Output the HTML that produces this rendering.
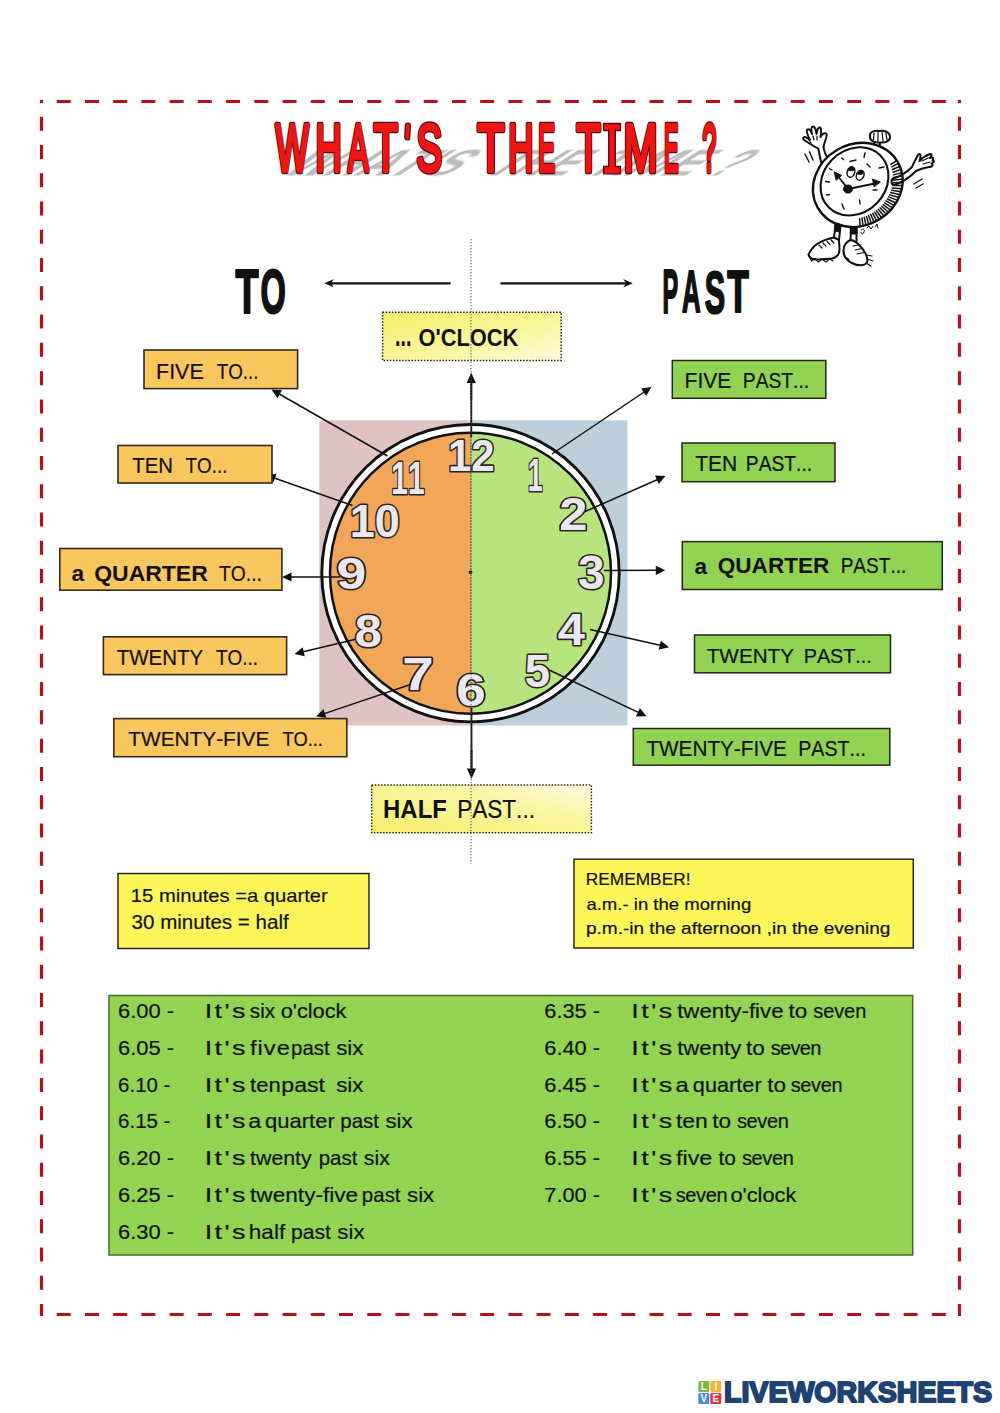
<!DOCTYPE html><html><head><meta charset="utf-8"><style>html,body{margin:0;padding:0;background:#fff;}svg{display:block;}text{font-family:"Liberation Sans",sans-serif;white-space:pre;font-kerning:none;font-variant-ligatures:none;}</style></head><body>
<svg width="1000" height="1413" viewBox="0 0 1000 1413">
<defs><linearGradient id="yg1" x1="0" y1="0" x2="1" y2="1"><stop offset="0" stop-color="#f6ef6a"/><stop offset="0.6" stop-color="#faf6a0"/><stop offset="1" stop-color="#fffbe0"/></linearGradient><linearGradient id="yg2" x1="0" y1="1" x2="1" y2="0"><stop offset="0" stop-color="#f6ef6a"/><stop offset="0.6" stop-color="#faf6a0"/><stop offset="1" stop-color="#fffbe0"/></linearGradient></defs>
<rect width="1000" height="1413" fill="#fff"/>
<g stroke="#b3121c" stroke-width="3.2" fill="none">
<line x1="56.7" y1="101.5" x2="950" y2="101.5" stroke-dasharray="14 14.23"/>
<line x1="56.7" y1="1314.5" x2="950" y2="1314.5" stroke-dasharray="14 14.23"/>
<line x1="41.5" y1="116.7" x2="41.5" y2="1316" stroke-dasharray="14 14.27"/>
<line x1="959.5" y1="116.7" x2="959.5" y2="1316" stroke-dasharray="14 14.27"/>
</g>
<rect x="39.9" y="99.9" width="3.2" height="3.2" fill="#b3121c"/>
<rect x="957.9" y="99.9" width="3.2" height="3.2" fill="#b3121c"/>
<filter id="blur1" x="-10%" y="-50%" width="120%" height="200%"><feGaussianBlur stdDeviation="1.1"/></filter>
<text transform="translate(278.46,175.50) skewX(-57) scale(0.5661,0.48)" font-size="77.04" font-weight="bold" fill="#bcbcbc" filter="url(#blur1)">WHAT'S</text>
<text transform="translate(481.54,175.50) skewX(-57) scale(0.5326,0.48)" font-size="77.04" font-weight="bold" fill="#bcbcbc" filter="url(#blur1)">THE</text>
<text transform="translate(580.90,175.50) skewX(-57) scale(0.5773,0.48)" font-size="77.04" font-weight="bold" fill="#bcbcbc" filter="url(#blur1)">TIME</text>
<text transform="translate(704.34,175.50) skewX(-57) scale(0.4708,0.48)" font-size="77.04" font-weight="bold" fill="#bcbcbc" filter="url(#blur1)">?</text>
<text transform="translate(275.65,171.30) scale(0.5239,1)" font-size="66.28" font-weight="normal" fill="#ee1515" stroke="#5a0606" stroke-width="6.4" stroke-linejoin="round">W</text>
<text transform="translate(315.52,171.30) scale(0.5483,1)" font-size="66.28" font-weight="normal" fill="#ee1515" stroke="#5a0606" stroke-width="6.4" stroke-linejoin="round">H</text>
<text transform="translate(347.94,171.30) scale(0.4596,1)" font-size="66.28" font-weight="normal" fill="#ee1515" stroke="#5a0606" stroke-width="6.4" stroke-linejoin="round">A</text>
<text transform="translate(373.72,171.30) scale(0.5924,1)" font-size="66.28" font-weight="normal" fill="#ee1515" stroke="#5a0606" stroke-width="6.4" stroke-linejoin="round">T</text>
<text transform="translate(416.56,171.30) scale(0.5792,1)" font-size="66.28" font-weight="normal" fill="#ee1515" stroke="#5a0606" stroke-width="6.4" stroke-linejoin="round">S</text>
<text transform="translate(477.61,171.30) scale(0.6617,1)" font-size="66.28" font-weight="normal" fill="#ee1515" stroke="#5a0606" stroke-width="6.4" stroke-linejoin="round">T</text>
<text transform="translate(508.34,171.30) scale(0.5267,1)" font-size="66.28" font-weight="normal" fill="#ee1515" stroke="#5a0606" stroke-width="6.4" stroke-linejoin="round">H</text>
<text transform="translate(538.10,171.30) scale(0.3869,1)" font-size="66.28" font-weight="normal" fill="#ee1515" stroke="#5a0606" stroke-width="6.4" stroke-linejoin="round">E</text>
<text transform="translate(576.52,171.30) scale(0.5924,1)" font-size="66.28" font-weight="normal" fill="#ee1515" stroke="#5a0606" stroke-width="6.4" stroke-linejoin="round">T</text>
<text transform="translate(623.44,171.30) scale(0.6180,1)" font-size="66.28" font-weight="normal" fill="#ee1515" stroke="#5a0606" stroke-width="6.4" stroke-linejoin="round">M</text>
<text transform="translate(664.01,171.30) scale(0.3285,1)" font-size="66.28" font-weight="normal" fill="#ee1515" stroke="#5a0606" stroke-width="6.4" stroke-linejoin="round">E</text>
<text transform="translate(702.49,171.30) scale(0.3724,1)" font-size="66.28" font-weight="normal" fill="#ee1515" stroke="#5a0606" stroke-width="6.4" stroke-linejoin="round">?</text>
<text transform="translate(275.65,171.30) scale(0.5239,1)" font-size="66.28" font-weight="normal" fill="#ee1515" stroke="#ee1515" stroke-width="3.8" stroke-linejoin="round">W</text>
<text transform="translate(315.52,171.30) scale(0.5483,1)" font-size="66.28" font-weight="normal" fill="#ee1515" stroke="#ee1515" stroke-width="3.8" stroke-linejoin="round">H</text>
<text transform="translate(347.94,171.30) scale(0.4596,1)" font-size="66.28" font-weight="normal" fill="#ee1515" stroke="#ee1515" stroke-width="3.8" stroke-linejoin="round">A</text>
<text transform="translate(373.72,171.30) scale(0.5924,1)" font-size="66.28" font-weight="normal" fill="#ee1515" stroke="#ee1515" stroke-width="3.8" stroke-linejoin="round">T</text>
<text transform="translate(416.56,171.30) scale(0.5792,1)" font-size="66.28" font-weight="normal" fill="#ee1515" stroke="#ee1515" stroke-width="3.8" stroke-linejoin="round">S</text>
<text transform="translate(477.61,171.30) scale(0.6617,1)" font-size="66.28" font-weight="normal" fill="#ee1515" stroke="#ee1515" stroke-width="3.8" stroke-linejoin="round">T</text>
<text transform="translate(508.34,171.30) scale(0.5267,1)" font-size="66.28" font-weight="normal" fill="#ee1515" stroke="#ee1515" stroke-width="3.8" stroke-linejoin="round">H</text>
<text transform="translate(538.10,171.30) scale(0.3869,1)" font-size="66.28" font-weight="normal" fill="#ee1515" stroke="#ee1515" stroke-width="3.8" stroke-linejoin="round">E</text>
<text transform="translate(576.52,171.30) scale(0.5924,1)" font-size="66.28" font-weight="normal" fill="#ee1515" stroke="#ee1515" stroke-width="3.8" stroke-linejoin="round">T</text>
<text transform="translate(623.44,171.30) scale(0.6180,1)" font-size="66.28" font-weight="normal" fill="#ee1515" stroke="#ee1515" stroke-width="3.8" stroke-linejoin="round">M</text>
<text transform="translate(664.01,171.30) scale(0.3285,1)" font-size="66.28" font-weight="normal" fill="#ee1515" stroke="#ee1515" stroke-width="3.8" stroke-linejoin="round">E</text>
<text transform="translate(702.49,171.30) scale(0.3724,1)" font-size="66.28" font-weight="normal" fill="#ee1515" stroke="#ee1515" stroke-width="3.8" stroke-linejoin="round">?</text>
<line x1="407.8" y1="125.5" x2="407.3" y2="137.5" stroke="#5a0606" stroke-width="6.2" stroke-linecap="round"/>
<line x1="407.8" y1="125.5" x2="407.3" y2="137.5" stroke="#ee1515" stroke-width="3.8" stroke-linecap="round"/>
<path d="M603.5,123.5 H620.5 V130.5 H615.3 V166.5 H620.5 V173.8 H603.5 V166.5 H608.7 V130.5 H603.5 Z" fill="#ee1515" stroke="#5a0606" stroke-width="1.3" stroke-linejoin="round"/>
<text transform="translate(235.47,313.10) scale(0.6017,1)" font-size="62.94" font-weight="bold" fill="#111" stroke="#111" stroke-width="2.2" stroke-linejoin="round">T</text>
<text transform="translate(260.47,313.29) scale(0.5198,1)" font-size="62.57" font-weight="bold" fill="#111" stroke="#111" stroke-width="2.2" stroke-linejoin="round">O</text>
<text transform="translate(662.53,312.90) scale(0.3760,1)" font-size="62.50" font-weight="bold" fill="#111" stroke="#111" stroke-width="2.2" stroke-linejoin="round">P</text>
<text transform="translate(681.96,312.40) scale(0.4348,1)" font-size="59.30" font-weight="bold" fill="#111" stroke="#111" stroke-width="2.2" stroke-linejoin="round">A</text>
<text transform="translate(704.72,313.12) scale(0.5137,1)" font-size="59.46" font-weight="bold" fill="#111" stroke="#111" stroke-width="2.2" stroke-linejoin="round">S</text>
<text transform="translate(727.20,312.40) scale(0.5884,1)" font-size="60.03" font-weight="bold" fill="#111" stroke="#111" stroke-width="2.2" stroke-linejoin="round">T</text>
<line x1="450.6" y1="283.3" x2="329.4" y2="283.3" stroke="#111" stroke-width="2.3"/>
<polygon points="324.4,283.3 333.9,279.1 330.9,283.3 333.9,287.5" fill="#111"/>
<line x1="500.5" y1="283.3" x2="627.7" y2="283.3" stroke="#111" stroke-width="2.3"/>
<polygon points="632.7,283.3 623.2,287.5 626.2,283.3 623.2,279.1" fill="#111"/>
<rect x="319.3" y="420.3" width="151.7" height="305.2" fill="#dfc3c3"/>
<rect x="471" y="420.3" width="156.5" height="305.2" fill="#bdcfda"/>
<circle cx="470.5" cy="573.2" r="148.7" fill="#fff" stroke="#111" stroke-width="2.9"/>
<clipPath id="face"><circle cx="470.5" cy="573.2" r="140"/></clipPath>
<g clip-path="url(#face)"><rect x="329.5" y="432.20000000000005" width="141.5" height="282" fill="#f2a65a"/><rect x="471" y="432.20000000000005" width="141" height="282" fill="#b7e47c"/></g>
<circle cx="470.5" cy="573.2" r="140.5" fill="none" stroke="#111" stroke-width="2.5"/>
<line x1="471" y1="436" x2="471" y2="710" stroke="#555" stroke-width="1" stroke-dasharray="1.3 1.7"/>
<circle cx="470.5" cy="572.3" r="1.8" fill="#111"/>
<line x1="471.3" y1="380" x2="471.3" y2="437" stroke="#111" stroke-width="1.8"/>
<line x1="471.3" y1="400.0" x2="471.3" y2="381.5" stroke="#111" stroke-width="1.8"/>
<polygon points="471.3,372.5 475.9,383.0 471.3,383.0 466.7,383.0" fill="#111"/>
<line x1="471.5" y1="708" x2="471.5" y2="770" stroke="#111" stroke-width="1.8"/>
<line x1="471.5" y1="750.0" x2="471.5" y2="770.0" stroke="#111" stroke-width="1.8"/>
<polygon points="471.5,779.0 466.9,768.5 471.5,768.5 476.1,768.5" fill="#111"/>
<line x1="387.5" y1="456.0" x2="278.4" y2="393.5" stroke="#111" stroke-width="1.5"/>
<polygon points="271.5,389.5 282.0,390.2 279.7,394.2 277.5,398.2" fill="#111"/>
<line x1="352.5" y1="505.5" x2="273.5" y2="477.7" stroke="#111" stroke-width="1.5"/>
<polygon points="266.0,475.0 276.5,473.8 275.0,478.2 273.4,482.5" fill="#111"/>
<line x1="340.0" y1="577.0" x2="290.0" y2="577.0" stroke="#111" stroke-width="1.5"/>
<polygon points="282.0,577.0 291.5,572.4 291.5,577.0 291.5,581.6" fill="#111"/>
<line x1="365.0" y1="637.0" x2="302.3" y2="652.1" stroke="#111" stroke-width="1.5"/>
<polygon points="294.5,654.0 302.7,647.3 303.7,651.8 304.8,656.2" fill="#111"/>
<line x1="415.0" y1="683.0" x2="323.6" y2="713.9" stroke="#111" stroke-width="1.5"/>
<polygon points="316.0,716.5 323.5,709.1 325.0,713.5 326.5,717.8" fill="#111"/>
<line x1="552.0" y1="454.0" x2="644.9" y2="391.5" stroke="#111" stroke-width="1.5"/>
<polygon points="651.5,387.0 646.2,396.1 643.6,392.3 641.1,388.5" fill="#111"/>
<line x1="584.0" y1="512.0" x2="658.2" y2="479.2" stroke="#111" stroke-width="1.5"/>
<polygon points="665.5,476.0 658.7,484.0 656.8,479.8 655.0,475.6" fill="#111"/>
<line x1="604.0" y1="570.5" x2="657.3" y2="570.3" stroke="#111" stroke-width="1.5"/>
<polygon points="665.3,570.3 655.8,574.9 655.8,570.3 655.8,565.7" fill="#111"/>
<line x1="590.0" y1="629.4" x2="661.2" y2="645.5" stroke="#111" stroke-width="1.5"/>
<polygon points="669.0,647.3 658.7,649.7 659.7,645.2 660.8,640.7" fill="#111"/>
<line x1="546.0" y1="668.5" x2="639.3" y2="712.9" stroke="#111" stroke-width="1.5"/>
<polygon points="646.5,716.3 635.9,716.4 637.9,712.2 639.9,708.1" fill="#111"/>
<text transform="translate(447.96,471.40) scale(0.9350,1)" font-size="44.83" font-weight="bold" fill="#eae8ef" stroke="#2e2626" stroke-width="3.2" paint-order="stroke" stroke-linejoin="round">12</text>
<text transform="translate(527.72,491.20) scale(0.5802,1)" font-size="45.93" font-weight="bold" fill="#eae8ef" stroke="#2e2626" stroke-width="3.2" paint-order="stroke" stroke-linejoin="round">1</text>
<text transform="translate(559.24,529.60) scale(1.0990,1)" font-size="46.12" font-weight="bold" fill="#eae8ef" stroke="#2e2626" stroke-width="3.2" paint-order="stroke" stroke-linejoin="round">2</text>
<text transform="translate(577.90,589.46) scale(0.9991,1)" font-size="47.92" font-weight="bold" fill="#eae8ef" stroke="#2e2626" stroke-width="3.2" paint-order="stroke" stroke-linejoin="round">3</text>
<text transform="translate(557.86,644.60) scale(1.0855,1)" font-size="45.06" font-weight="bold" fill="#eae8ef" stroke="#2e2626" stroke-width="3.2" paint-order="stroke" stroke-linejoin="round">4</text>
<text transform="translate(524.80,687.34) scale(0.9663,1)" font-size="47.01" font-weight="bold" fill="#eae8ef" stroke="#2e2626" stroke-width="3.2" paint-order="stroke" stroke-linejoin="round">5</text>
<text transform="translate(456.35,706.25) scale(1.1582,1)" font-size="45.90" font-weight="bold" fill="#eae8ef" stroke="#2e2626" stroke-width="3.2" paint-order="stroke" stroke-linejoin="round">6</text>
<text transform="translate(402.26,690.20) scale(1.2342,1)" font-size="45.93" font-weight="bold" fill="#eae8ef" stroke="#2e2626" stroke-width="3.2" paint-order="stroke" stroke-linejoin="round">7</text>
<text transform="translate(354.76,646.75) scale(1.0591,1)" font-size="45.90" font-weight="bold" fill="#eae8ef" stroke="#2e2626" stroke-width="3.2" paint-order="stroke" stroke-linejoin="round">8</text>
<text transform="translate(336.54,588.96) scale(1.2027,1)" font-size="44.63" font-weight="bold" fill="#eae8ef" stroke="#2e2626" stroke-width="3.2" paint-order="stroke" stroke-linejoin="round">9</text>
<text transform="translate(349.76,536.96) scale(0.9900,1)" font-size="45.48" font-weight="bold" fill="#eae8ef" stroke="#2e2626" stroke-width="3.2" paint-order="stroke" stroke-linejoin="round">10</text>
<text transform="translate(390.89,494.20) scale(0.6484,1)" font-size="46.80" font-weight="bold" fill="#eae8ef" stroke="#2e2626" stroke-width="3.2" paint-order="stroke" stroke-linejoin="round">11</text>
<rect x="144.0" y="350.0" width="153.6" height="38.6" fill="#fac75e" stroke="#33291a" stroke-width="1.6" />
<rect x="118.0" y="445.5" width="154.0" height="37.5" fill="#fac75e" stroke="#33291a" stroke-width="1.6" />
<rect x="59.8" y="548.5" width="222.1" height="41.7" fill="#fac75e" stroke="#33291a" stroke-width="1.6" />
<rect x="103.4" y="636.8" width="183.2" height="37.8" fill="#fac75e" stroke="#33291a" stroke-width="1.6" />
<rect x="113.8" y="718.6" width="233.0" height="38.1" fill="#fac75e" stroke="#33291a" stroke-width="1.6" />
<text transform="translate(156.04,379.00) scale(0.9839,1)" font-size="21.80" font-weight="normal" fill="#111" stroke="#111" stroke-width="0.2">FIVE</text>
<text transform="translate(216.78,379.00) scale(0.8615,1)" font-size="21.80" font-weight="normal" fill="#111" stroke="#111" stroke-width="0.2">TO...</text>
<text transform="translate(132.24,473.10) scale(0.9439,1)" font-size="21.51" font-weight="normal" fill="#111" stroke="#111" stroke-width="0.2">TEN</text>
<text transform="translate(185.58,473.10) scale(0.8753,1)" font-size="21.51" font-weight="normal" fill="#111" stroke="#111" stroke-width="0.2">TO...</text>
<text transform="translate(128.33,745.90) scale(1.0014,1)" font-size="20.79" font-weight="normal" fill="#111" stroke="#111" stroke-width="0.2">TWENTY-FIVE</text>
<text transform="translate(282.39,745.90) scale(0.8785,1)" font-size="20.79" font-weight="normal" fill="#111" stroke="#111" stroke-width="0.2">TO...</text>
<text transform="translate(116.74,664.80) scale(0.9275,1)" font-size="22.09" font-weight="normal" fill="#111" stroke="#111" stroke-width="0.2">TWENTY</text>
<text transform="translate(215.97,664.80) scale(0.8587,1)" font-size="22.09" font-weight="normal" fill="#111" stroke="#111" stroke-width="0.2">TO...</text>
<text transform="translate(71.44,580.58) scale(1.0275,1)" font-size="22.09" font-weight="bold" fill="#111" >a</text>
<text transform="translate(94.26,580.80) scale(1.0266,1)" font-size="22.38" font-weight="bold" fill="#111" >QUARTER</text>
<text transform="translate(219.07,580.80) scale(0.8624,1)" font-size="22.38" font-weight="normal" fill="#111" stroke="#111" stroke-width="0.2">TO...</text>
<rect x="672.3" y="360.5" width="153.5" height="37.8" fill="#92d252" stroke="#1e2a14" stroke-width="1.5" />
<rect x="682.0" y="443.0" width="153.0" height="38.7" fill="#92d252" stroke="#1e2a14" stroke-width="1.5" />
<rect x="682.3" y="541.6" width="260.0" height="47.9" fill="#92d252" stroke="#1e2a14" stroke-width="1.5" />
<rect x="694.5" y="635.0" width="196.0" height="37.8" fill="#92d252" stroke="#1e2a14" stroke-width="1.5" />
<rect x="633.3" y="728.5" width="256.5" height="36.7" fill="#92d252" stroke="#1e2a14" stroke-width="1.5" />
<text transform="translate(684.58,388.10) scale(0.9839,1)" font-size="21.37" font-weight="normal" fill="#111" stroke="#111" stroke-width="0.2">FIVE</text>
<text transform="translate(742.82,388.10) scale(0.9011,1)" font-size="21.37" font-weight="normal" fill="#111" stroke="#111" stroke-width="0.2">PAST...</text>
<text transform="translate(695.13,471.00) scale(0.9849,1)" font-size="21.37" font-weight="normal" fill="#111" stroke="#111" stroke-width="0.2">TEN</text>
<text transform="translate(745.82,471.00) scale(0.9011,1)" font-size="21.37" font-weight="normal" fill="#111" stroke="#111" stroke-width="0.2">PAST...</text>
<text transform="translate(706.74,662.50) scale(0.9882,1)" font-size="20.93" font-weight="normal" fill="#111" stroke="#111" stroke-width="0.2">TWENTY</text>
<text transform="translate(803.68,662.50) scale(0.9462,1)" font-size="20.93" font-weight="normal" fill="#111" stroke="#111" stroke-width="0.2">PAST...</text>
<text transform="translate(646.43,756.00) scale(0.9505,1)" font-size="21.80" font-weight="normal" fill="#111" stroke="#111" stroke-width="0.2">TWENTY-FIVE</text>
<text transform="translate(798.19,756.00) scale(0.9027,1)" font-size="21.80" font-weight="normal" fill="#111" stroke="#111" stroke-width="0.2">PAST...</text>
<text transform="translate(694.44,573.59) scale(1.0275,1)" font-size="21.90" font-weight="bold" fill="#111" >a</text>
<text transform="translate(717.67,573.30) scale(0.9845,1)" font-size="22.97" font-weight="bold" fill="#111" >QUARTER</text>
<text transform="translate(840.64,573.30) scale(0.8304,1)" font-size="22.97" font-weight="normal" fill="#111" stroke="#111" stroke-width="0.2">PAST...</text>
<rect x="382.6" y="312.2" width="178.6" height="48.3" fill="url(#yg1)" stroke="#262616" stroke-width="1.5" stroke-dasharray="1.5 1.6"/>
<text transform="translate(394.97,345.80) scale(0.6100,1)" font-size="32.23" font-weight="bold" fill="#111" >...</text>
<text transform="translate(418.51,345.80) scale(0.9150,1)" font-size="23.84" font-weight="bold" fill="#111" >O'CLOCK</text>
<rect x="371.7" y="785.0" width="219.7" height="47.8" fill="url(#yg2)" stroke="#262616" stroke-width="1.5" stroke-dasharray="1.5 1.6"/>
<text transform="translate(383.10,817.50) scale(0.9569,1)" font-size="25.00" font-weight="bold" fill="#111" >HALF</text>
<text transform="translate(457.15,817.50) scale(0.9034,1)" font-size="25.00" font-weight="normal" fill="#111" stroke="#111" stroke-width="0.2">PAST...</text>
<line x1="471" y1="239" x2="471" y2="863.5" stroke="#606060" stroke-width="1.1" stroke-dasharray="1.3 1.7"/>
<rect x="118.0" y="873.5" width="251.0" height="75.0" fill="#fcf65a" stroke="#1e1a10" stroke-width="1.4" />
<text transform="translate(130.86,902.00) scale(1.0858,1)" font-size="18.60" font-weight="normal" fill="#111" stroke="#111" stroke-width="0.2">15 minutes =a quarter</text>
<text transform="translate(131.62,929.30) scale(1.0401,1)" font-size="19.77" font-weight="normal" fill="#111" stroke="#111" stroke-width="0.2">30 minutes = half</text>
<rect x="574.0" y="859.2" width="339.3" height="88.8" fill="#fcf65a" stroke="#1e1a10" stroke-width="1.4" />
<text transform="translate(585.78,884.80) scale(1.0165,1)" font-size="17.01" font-weight="normal" fill="#111" stroke="#111" stroke-width="0.2">REMEMBER!</text>
<text transform="translate(586.41,910.00) scale(1.0903,1)" font-size="17.01" font-weight="normal" fill="#111" stroke="#111" stroke-width="0.2">a.m.- in the morning</text>
<text transform="translate(585.97,934.30) scale(1.1186,1)" font-size="17.01" font-weight="normal" fill="#111" stroke="#111" stroke-width="0.2">p.m.-in the afternoon ,in the evening</text>
<rect x="109.0" y="995.5" width="803.7" height="259.5" fill="#93d351" stroke="#4a6a35" stroke-width="1.5" />
<text transform="translate(117.99,1017.90) scale(1.0607,1)" font-size="20.64" font-weight="normal" fill="#111" stroke="#111" stroke-width="0.2">6.00 -</text>
<text transform="translate(0,1017.90) scale(1.3000,1)" x="157.48 165.06 172.64 178.43" font-size="20.64" fill="#111" stroke="#111" stroke-width="0.2">It's</text>
<text transform="translate(0,1017.90) scale(1.0029,1)" x="249.10 259.42 264.01" font-size="20.64" fill="#111" stroke="#111" stroke-width="0.2">six</text>
<text transform="translate(0,1017.90) scale(1.0518,1)" x="266.86 278.34 282.28 292.60 297.18 308.66 318.98" font-size="20.64" fill="#111" stroke="#111" stroke-width="0.2">o'clock</text>
<text transform="translate(117.99,1054.75) scale(1.0607,1)" font-size="20.64" font-weight="normal" fill="#111" stroke="#111" stroke-width="0.2">6.05 -</text>
<text transform="translate(0,1054.75) scale(1.3000,1)" x="157.48 165.06 172.64 178.43" font-size="20.64" fill="#111" stroke="#111" stroke-width="0.2">It's</text>
<text transform="translate(0,1054.75) scale(1.1500,1)" x="217.45 224.01 229.42 240.57" font-size="20.64" fill="#111" stroke="#111" stroke-width="0.2">five</text>
<text transform="translate(0,1054.75) scale(0.9912,1)" x="293.67 305.15 316.63 326.95" font-size="20.64" fill="#111" stroke="#111" stroke-width="0.2">past</text>
<text transform="translate(0,1054.75) scale(1.0807,1)" x="311.08 321.40 325.99" font-size="20.64" fill="#111" stroke="#111" stroke-width="0.2">six</text>
<text transform="translate(118.06,1091.60) scale(0.9919,1)" font-size="20.64" font-weight="normal" fill="#111" stroke="#111" stroke-width="0.2">6.10 -</text>
<text transform="translate(0,1091.60) scale(1.3000,1)" x="157.48 165.06 172.64 178.43" font-size="20.64" fill="#111" stroke="#111" stroke-width="0.2">It's</text>
<text transform="translate(0,1091.60) scale(1.0651,1)" x="234.78 240.52 251.99" font-size="20.64" fill="#111" stroke="#111" stroke-width="0.2">ten</text>
<text transform="translate(0,1091.60) scale(1.1191,1)" x="251.38 262.86 274.33 284.65" font-size="20.64" fill="#111" stroke="#111" stroke-width="0.2">past</text>
<text transform="translate(0,1091.60) scale(1.0807,1)" x="311.08 321.40 325.99" font-size="20.64" fill="#111" stroke="#111" stroke-width="0.2">six</text>
<text transform="translate(118.06,1128.45) scale(0.9919,1)" font-size="20.64" font-weight="normal" fill="#111" stroke="#111" stroke-width="0.2">6.15 -</text>
<text transform="translate(0,1128.45) scale(1.3000,1)" x="157.48 165.06 172.64 178.43" font-size="20.64" fill="#111" stroke="#111" stroke-width="0.2">It's</text>
<text transform="translate(0,1128.45) scale(1.1318,1)" x="219.29" font-size="20.64" fill="#111" stroke="#111" stroke-width="0.2">a</text>
<text transform="translate(0,1128.45) scale(1.0656,1)" x="248.75 260.23 271.71 283.19 290.06 295.79 307.27" font-size="20.64" fill="#111" stroke="#111" stroke-width="0.2">quarter</text>
<text transform="translate(0,1128.45) scale(0.9912,1)" x="343.31 354.79 366.26 376.58" font-size="20.64" fill="#111" stroke="#111" stroke-width="0.2">past</text>
<text transform="translate(0,1128.45) scale(1.0807,1)" x="356.61 366.93 371.52" font-size="20.64" fill="#111" stroke="#111" stroke-width="0.2">six</text>
<text transform="translate(117.99,1165.30) scale(1.0607,1)" font-size="20.64" font-weight="normal" fill="#111" stroke="#111" stroke-width="0.2">6.20 -</text>
<text transform="translate(0,1165.30) scale(1.3000,1)" x="157.48 165.06 172.64 178.43" font-size="20.64" fill="#111" stroke="#111" stroke-width="0.2">It's</text>
<text transform="translate(0,1165.30) scale(1.0321,1)" x="242.31 248.05 262.95 274.43 285.91 291.64" font-size="20.64" fill="#111" stroke="#111" stroke-width="0.2">twenty</text>
<text transform="translate(0,1165.30) scale(0.9912,1)" x="321.51 332.99 344.47 354.79" font-size="20.64" fill="#111" stroke="#111" stroke-width="0.2">past</text>
<text transform="translate(0,1165.30) scale(1.0316,1)" x="352.68 363.00 367.59" font-size="20.64" fill="#111" stroke="#111" stroke-width="0.2">six</text>
<text transform="translate(117.99,1202.15) scale(1.0607,1)" font-size="20.64" font-weight="normal" fill="#111" stroke="#111" stroke-width="0.2">6.25 -</text>
<text transform="translate(0,1202.15) scale(1.3000,1)" x="157.48 165.06 172.64 178.43" font-size="20.64" fill="#111" stroke="#111" stroke-width="0.2">It's</text>
<text transform="translate(0,1202.15) scale(1.0963,1)" x="228.08 233.82 248.72 260.20 271.68 277.42 287.74 294.61 300.34 304.93 315.25" font-size="20.64" fill="#111" stroke="#111" stroke-width="0.2">twenty-five</text>
<text transform="translate(0,1202.15) scale(0.9912,1)" x="365.10 376.58 388.06 398.38" font-size="20.64" fill="#111" stroke="#111" stroke-width="0.2">past</text>
<text transform="translate(0,1202.15) scale(1.0807,1)" x="376.60 386.92 391.50" font-size="20.64" fill="#111" stroke="#111" stroke-width="0.2">six</text>
<text transform="translate(117.99,1239.00) scale(1.0607,1)" font-size="20.64" font-weight="normal" fill="#111" stroke="#111" stroke-width="0.2">6.30 -</text>
<text transform="translate(0,1239.00) scale(1.3000,1)" x="157.48 165.06 172.64 178.43" font-size="20.64" fill="#111" stroke="#111" stroke-width="0.2">It's</text>
<text transform="translate(0,1239.00) scale(1.0917,1)" x="227.94 239.42 250.89 255.48" font-size="20.64" fill="#111" stroke="#111" stroke-width="0.2">half</text>
<text transform="translate(0,1239.00) scale(1.0232,1)" x="284.45 295.93 307.41 317.73" font-size="20.64" fill="#111" stroke="#111" stroke-width="0.2">past</text>
<text transform="translate(0,1239.00) scale(1.0807,1)" x="312.19 322.51 327.10" font-size="20.64" fill="#111" stroke="#111" stroke-width="0.2">six</text>
<text transform="translate(544.29,1017.90) scale(1.0548,1)" font-size="20.64" font-weight="normal" fill="#111" stroke="#111" stroke-width="0.2">6.35 -</text>
<text transform="translate(0,1017.90) scale(1.3000,1)" x="485.63 493.29 500.95 506.81" font-size="20.64" fill="#111" stroke="#111" stroke-width="0.2">It's</text>
<text transform="translate(0,1017.90) scale(1.0779,1)" x="628.24 633.98 648.88 660.36 671.84 677.58 687.90 694.77 700.50 705.09 715.41" font-size="20.64" fill="#111" stroke="#111" stroke-width="0.2">twenty-five</text>
<text transform="translate(0,1017.90) scale(1.0914,1)" x="722.42 728.15" font-size="20.64" fill="#111" stroke="#111" stroke-width="0.2">to</text>
<text transform="translate(0,1017.90) scale(0.9700,1)" x="838.39 848.62 860.00 870.23 881.61" font-size="20.64" fill="#111" stroke="#111" stroke-width="0.2">seven</text>
<text transform="translate(544.29,1054.75) scale(1.0548,1)" font-size="20.64" font-weight="normal" fill="#111" stroke="#111" stroke-width="0.2">6.40 -</text>
<text transform="translate(0,1054.75) scale(1.3000,1)" x="485.63 493.29 500.95 506.81" font-size="20.64" fill="#111" stroke="#111" stroke-width="0.2">It's</text>
<text transform="translate(0,1054.75) scale(1.0759,1)" x="629.39 635.13 650.03 661.51 672.99 678.73" font-size="20.64" fill="#111" stroke="#111" stroke-width="0.2">twenty</text>
<text transform="translate(0,1054.75) scale(1.0914,1)" x="683.48 689.21" font-size="20.64" fill="#111" stroke="#111" stroke-width="0.2">to</text>
<text transform="translate(0,1054.75) scale(0.9700,1)" x="794.58 804.16 814.90 824.48 835.22" font-size="20.64" fill="#111" stroke="#111" stroke-width="0.2">seven</text>
<text transform="translate(544.29,1091.60) scale(1.0548,1)" font-size="20.64" font-weight="normal" fill="#111" stroke="#111" stroke-width="0.2">6.45 -</text>
<text transform="translate(0,1091.60) scale(1.3000,1)" x="485.63 493.29 500.95 506.81" font-size="20.64" fill="#111" stroke="#111" stroke-width="0.2">It's</text>
<text transform="translate(0,1091.60) scale(1.1500,1)" x="587.34" font-size="20.64" fill="#111" stroke="#111" stroke-width="0.2">a</text>
<text transform="translate(0,1091.60) scale(1.0516,1)" x="658.88 670.36 681.84 693.32 700.19 705.93 717.41" font-size="20.64" fill="#111" stroke="#111" stroke-width="0.2">quarter</text>
<text transform="translate(0,1091.60) scale(1.0914,1)" x="702.90 708.64" font-size="20.64" fill="#111" stroke="#111" stroke-width="0.2">to</text>
<text transform="translate(0,1091.60) scale(0.9700,1)" x="815.20 825.11 836.19 846.11 857.18" font-size="20.64" fill="#111" stroke="#111" stroke-width="0.2">seven</text>
<text transform="translate(544.29,1128.45) scale(1.0548,1)" font-size="20.64" font-weight="normal" fill="#111" stroke="#111" stroke-width="0.2">6.50 -</text>
<text transform="translate(0,1128.45) scale(1.3000,1)" x="485.63 493.29 500.95 506.81" font-size="20.64" fill="#111" stroke="#111" stroke-width="0.2">It's</text>
<text transform="translate(0,1128.45) scale(1.1095,1)" x="609.25 614.98 626.46" font-size="20.64" fill="#111" stroke="#111" stroke-width="0.2">ten</text>
<text transform="translate(0,1128.45) scale(1.0914,1)" x="652.51 658.24" font-size="20.64" fill="#111" stroke="#111" stroke-width="0.2">to</text>
<text transform="translate(0,1128.45) scale(0.9700,1)" x="759.73 769.65 780.73 790.64 801.72" font-size="20.64" fill="#111" stroke="#111" stroke-width="0.2">seven</text>
<text transform="translate(544.29,1165.30) scale(1.0548,1)" font-size="20.64" font-weight="normal" fill="#111" stroke="#111" stroke-width="0.2">6.55 -</text>
<text transform="translate(0,1165.30) scale(1.3000,1)" x="485.63 493.29 500.95 506.81" font-size="20.64" fill="#111" stroke="#111" stroke-width="0.2">It's</text>
<text transform="translate(0,1165.30) scale(1.1323,1)" x="596.97 602.70 607.29 617.61" font-size="20.64" fill="#111" stroke="#111" stroke-width="0.2">five</text>
<text transform="translate(0,1165.30) scale(1.0103,1)" x="711.13 716.87" font-size="20.64" fill="#111" stroke="#111" stroke-width="0.2">to</text>
<text transform="translate(0,1165.30) scale(0.9700,1)" x="764.89 774.81 785.88 795.80 806.87" font-size="20.64" fill="#111" stroke="#111" stroke-width="0.2">seven</text>
<text transform="translate(544.28,1202.15) scale(1.0550,1)" font-size="20.64" font-weight="normal" fill="#111" stroke="#111" stroke-width="0.2">7.00 -</text>
<text transform="translate(0,1202.15) scale(1.3000,1)" x="485.63 493.29 500.95 506.81" font-size="20.64" fill="#111" stroke="#111" stroke-width="0.2">It's</text>
<text transform="translate(0,1202.15) scale(0.9700,1)" x="696.64 706.56 717.63 727.55 738.62" font-size="20.64" fill="#111" stroke="#111" stroke-width="0.2">seven</text>
<text transform="translate(0,1202.15) scale(1.0551,1)" x="692.26 703.74 707.68 718.00 722.59 734.07 744.39" font-size="20.64" fill="#111" stroke="#111" stroke-width="0.2">o'clock</text>
<g stroke="#111" fill="none" stroke-width="2" stroke-linecap="round" stroke-linejoin="round">
<path d="M805,154 L809,162 M809.5,152 L813,160 M914,184 L922,179 M916,188 L923,184" stroke-width="1.4"/>
<path d="M818,147 C819,152 820,158 822,166 M823.5,147 C824,151 826,156 829,160" />
<path d="M817,148 C812,145 807,142 804,140 C802,138 804,136 807,138 L810,140 C808,136 806,132 807,130 C808,128 811,130 812,134 C811,130 811,127 813,126.5 C815,126.5 816,130 816.5,134 C817,130 818,127 820,127.5 C822,128.5 821,133 820.5,137 C822,134 825,132 826.5,134 C827.5,136 825,140 823.5,147" fill="#fff"/>
<path d="M809,140 L811,143 M813,136 L814,140 M817,136 L817,140" stroke-width="1.2"/>
<path d="M873.5,146 L874.5,141 M880,146 L879.5,141" />
<path d="M870,137 C869,132 874,130 879,131 C884,130 890,132 890,137 C890,141 886,143 880,142.5 C875,143 870,141 870,137 Z" fill="#fff"/>
<path d="M874,133 L873.5,140 M878,132 L878,141 M882,132 L883,141 M886,133 L887,140" stroke-width="1.2"/>
<ellipse cx="857.8" cy="184.9" rx="46.1" ry="40.7" transform="rotate(-29.5 857.8 184.9)" fill="#fff" stroke-width="2.3"/>
<path d="M896.9,160.5 L890.8,164.3 M898.5,163.3 L891.8,166.9 M899.9,166.3 L892.6,169.5 M901.0,169.4 L893.2,172.2 M901.8,172.6 L893.5,174.9 M902.4,175.8 L893.7,177.6 M902.6,179.1 L893.6,180.2 M902.6,182.3 L893.4,182.8 M902.3,185.5 L892.9,185.4 M901.8,188.7 L892.3,187.9 M901.0,191.7 L891.6,190.3 M900.0,194.7 L890.7,192.6 M898.9,197.6 L889.7,194.8 M897.5,200.4 L888.6,196.9 M896.0,203.0 L887.4,199.0 M894.3,205.6 L886.1,200.9 M892.5,207.9 L884.7,202.8 M890.5,210.2 L883.2,204.6 M888.5,212.3 L881.7,206.2 M886.3,214.3 L880.0,207.8 M884.1,216.2 L878.3,209.3 M881.7,217.9 L876.5,210.8 M879.3,219.5 L874.7,212.1 M876.7,220.9 L872.7,213.3 M874.1,222.2 L870.7,214.5 M871.4,223.4 L868.6,215.5 M868.7,224.4 L866.5,216.5 M865.9,225.2 L864.3,217.3 M863.0,225.9 L862.0,218.1 M860.1,226.5 L859.6,218.7" stroke-width="1.5"/>
<ellipse cx="854.5" cy="181.4" rx="36.6" ry="31.2" transform="rotate(-45.6 854.5 181.4)" fill="#fff" stroke-width="2.1"/>
<path d="M841.5,158 L843.5,159.5 M850,161.5 L856,160 M865,153 L864,157.5 M867,164 L870,167 M879,168 L884,167 M873,190 L877,190 M859.5,200 L860,204 M842,204 L844,209 M826.5,195 L829.5,194.5 M825.5,181.5 L829.5,182 M829.5,168.5 L832,170" stroke-width="1.4"/>
<ellipse cx="851" cy="172" rx="3.7" ry="5.4" transform="rotate(18 851 172)" fill="#fff" stroke-width="1.5"/>
<ellipse cx="860.2" cy="175.3" rx="3.6" ry="5.1" transform="rotate(25 860.2 175.3)" fill="#fff" stroke-width="1.5"/>
<path d="M848,170 C848.5,166.5 852,166 854.3,168.5 C854.5,171 852,171.5 848,170 Z M857,173.5 C858,170 861.5,170 863.3,172.5 C863,175 860,175 857,173.5 Z" fill="#111" stroke-width="1"/>
<path d="M848,189 L837.5,175.5 M848,189 L875,183.5" stroke-width="1.9"/>
<path d="M834.5,172 L841.5,175.5 L836.5,180 Z M880,182 L872.5,179 L874,186.5 Z" fill="#111" stroke-width="1"/>
<ellipse cx="848" cy="189" rx="4" ry="3.4" fill="#111"/>
<path d="M894,185 C901,183 909,178 916,171 M893,178.5 C899,177 905,174 912,167" fill="none"/>
<path d="M893.5,178.5 C890.5,180 891,184.5 894,185" />
<path d="M912,167 C914,162 916.5,158 918,155 C919,153 921,154 920.5,157 L919.5,161 C923,157 927,155 930,154 C932,154 932.5,156 929.5,158 C932.5,157 934.5,158 932.5,160.5 C934.5,160.5 934.5,162.5 931.5,163.5 C933.5,164.5 932.5,167 929,167 C925,167.5 921,168.5 916,171" fill="#fff"/>
<path d="M922,161 L928,158 M923,164 L930,162" stroke-width="1.1"/>
<path d="M835.5,224 L834,238 M840.5,226 L839,240 M851,227 L850.5,241 M856.5,227 L856.5,241" />
<path d="M835.5,224 L841,225.5 L840,232 L835,231 Z M850.5,227 L857,227 L857,234 L851,234 Z" fill="#111" stroke-width="1"/>
<path d="M834,237.5 C828,238.5 822,241 817,244 C813,247 810,251 808.5,254.5 C809,257.5 812,259.5 818,259.5 L832,258.5 C837,257.5 839.5,254 839.5,249 L839,240 Z" fill="#fff"/>
<path d="M809,256 L811.5,261 L815,258.5 L818.5,262 L822,259 L826,262 L829.5,259 L833,261" stroke-width="1.2"/>
<path d="M819,245 L822,248 M823,243 L826,246 M827,241.5 L830,244.5 M831,240 L834,243" stroke-width="1.2"/>
<path d="M850.5,240 C846,242 843.5,246 843.5,251 C843.5,256 847,261 853,263.5 C858,266 864.5,266 867,262.5 C868.5,258 865,251 860,246 C857.5,243 855,240.5 850.5,240 Z" fill="#fff"/>
<path d="M853,246 L860,244.5 M855,250 L862,248.5 M857,254 L864,252.5 M866,255 L872,256 M867,259 L873,261 M866,263 L871,266" stroke-width="1.2"/>
<path d="M843.5,251 L845,257 L848,258.5 L850,262.5 L855,264.5" stroke-width="1.2"/>
<path d="M861,230 C863,228 865,229 864,232 C863,235 861,234 861,232 M867,228 L869,226 L871,229 L873,226 M875,227 L877,224 L878,228" stroke-width="1"/>
</g>
<rect x="698.3" y="1381" width="11" height="11" rx="1.5" fill="#7cb944"/>
<text x="703.8" y="1390" font-size="10" font-weight="bold" fill="#fff" text-anchor="middle">L</text>
<rect x="710.3" y="1381" width="11" height="11" rx="1.5" fill="#f0b43a"/>
<text x="715.8" y="1390" font-size="10" font-weight="bold" fill="#fff" text-anchor="middle">I</text>
<rect x="698.3" y="1393" width="11" height="11" rx="1.5" fill="#4a88d8"/>
<text x="703.8" y="1402" font-size="10" font-weight="bold" fill="#fff" text-anchor="middle">V</text>
<rect x="710.3" y="1393" width="11" height="11" rx="1.5" fill="#e2323e"/>
<text x="715.8" y="1402" font-size="10" font-weight="bold" fill="#fff" text-anchor="middle">E</text>
<text transform="translate(723.99,1402.30) scale(0.9922,1)" font-size="28.78" font-weight="bold" fill="#1d4373" stroke="#1d4373" stroke-width="2" stroke-linejoin="round">LIVEWORKSHEETS</text>
</svg></body></html>
